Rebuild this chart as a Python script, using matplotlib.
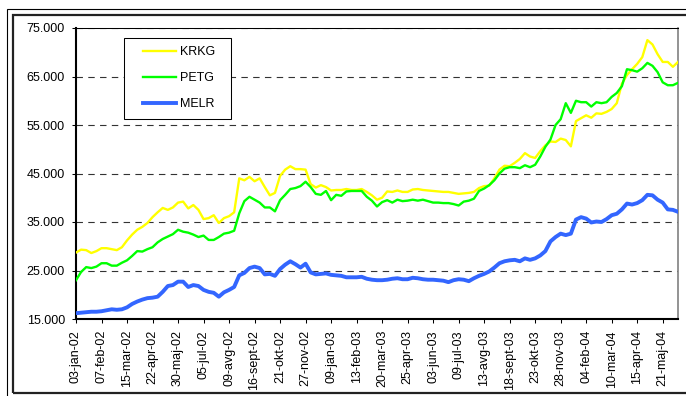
import matplotlib
matplotlib.use("Agg")
import matplotlib.pyplot as plt
from matplotlib.patches import Rectangle
from matplotlib.lines import Line2D
from matplotlib.ticker import FuncFormatter

plt.rcParams['font.family'] = ['Liberation Sans', 'DejaVu Sans']

# weekly closing prices (thousands), 03-jan-02 .. jun-04
krkg = [
    28.7, 29.3, 29.2, 28.6, 29.0, 29.6, 29.6, 29.4, 29.2, 29.8,
    31.2, 32.4, 33.4, 34.0, 34.8, 36.0, 37.0, 37.9, 37.5, 38.0,
    39.0, 39.2, 37.8, 38.5, 37.5, 35.6, 35.8, 36.4, 34.8, 35.8,
    36.2, 37.0, 44.0, 43.6, 44.3, 43.4, 44.0, 42.2, 40.5, 41.0,
    44.5, 45.8, 46.5, 45.9, 45.9, 45.8, 42.8, 42.1, 42.6, 42.2,
    41.5, 41.6, 41.6, 41.8, 41.6, 41.6, 41.8, 41.2, 40.5, 39.6,
    40.0, 41.3, 41.2, 41.5, 41.2, 41.2, 41.7, 41.8, 41.6, 41.5,
    41.4, 41.3, 41.2, 41.2, 41.0, 40.8, 40.9, 41.0, 41.2, 42.0,
    42.4, 42.5, 44.0, 45.8, 46.6, 46.5, 47.2, 48.0, 49.2, 48.5,
    48.2, 49.6, 50.8, 51.6, 51.5, 52.2, 51.9, 50.6, 55.8, 56.4,
    57.0, 56.5, 57.4, 57.3, 57.7, 58.3, 59.5, 63.5, 65.3, 66.5,
    67.6, 69.0, 72.5, 71.6, 69.6, 68.0, 68.0, 67.0, 68.0,
]
petg = [
    23.0, 24.7, 25.7, 25.5, 25.8, 26.5, 26.5, 26.0, 26.0, 26.6,
    27.1, 28.0, 29.0, 28.9, 29.4, 29.8, 30.8, 31.5, 32.0, 32.5,
    33.4, 33.0, 32.8, 32.4, 31.9, 32.2, 31.3, 31.3, 31.9, 32.6,
    32.8, 33.2, 36.8, 39.3, 40.2, 39.6, 39.0, 38.0, 38.0, 37.2,
    39.5, 40.6, 41.8, 42.0, 42.4, 43.3, 42.2, 40.8, 40.6, 41.4,
    39.5, 40.6, 40.4, 41.3, 41.4, 41.4, 41.4, 40.2, 39.4, 38.2,
    39.1, 39.5, 39.0, 39.6, 39.3, 39.4, 39.6, 39.4, 39.6, 39.3,
    39.0, 39.0, 38.9, 38.9, 38.7, 38.4, 39.2, 39.4, 39.8, 41.4,
    41.9, 42.6, 43.6, 45.0, 46.0, 46.3, 46.3, 46.1, 46.7, 46.3,
    46.8, 48.5, 50.5, 52.0, 55.0, 56.2, 59.5, 57.5, 60.0, 59.7,
    59.7, 58.8, 59.7, 59.5, 59.7, 60.8, 61.6, 63.0, 66.5, 66.3,
    66.0, 66.7, 67.8, 67.2, 65.9, 63.8, 63.2, 63.2, 63.7,
]
melr = [
    16.2, 16.3, 16.4, 16.5, 16.5, 16.6, 16.8, 17.0, 16.9, 17.0,
    17.4, 18.1, 18.6, 19.0, 19.3, 19.4, 19.6, 20.6, 21.8, 22.0,
    22.7, 22.7, 21.6, 22.0, 21.8, 21.0, 20.6, 20.4, 19.6, 20.5,
    21.0, 21.6, 24.0, 24.5, 25.5, 25.8, 25.5, 24.2, 24.3, 23.9,
    25.3, 26.2, 26.9, 26.3, 25.6, 26.4, 24.6, 24.2, 24.3, 24.4,
    24.1, 24.0, 23.9, 23.6, 23.6, 23.6, 23.7, 23.3, 23.1, 23.0,
    23.0, 23.1, 23.3, 23.4, 23.2, 23.2, 23.5, 23.4, 23.2, 23.1,
    23.1, 23.0, 22.9, 22.6, 23.0, 23.2, 23.1, 22.8, 23.4, 23.9,
    24.3, 24.8, 25.6, 26.5, 26.9, 27.1, 27.2, 26.9, 27.5, 27.2,
    27.5, 28.1, 29.0, 31.0, 31.9, 32.6, 32.3, 32.6, 35.5, 36.0,
    35.7, 34.9, 35.1, 35.0, 35.6, 36.4, 36.7, 37.6, 38.8, 38.6,
    38.9, 39.5, 40.6, 40.5, 39.6, 39.0, 37.6, 37.5, 37.1,
]
date_labels = [
    '03-jan-02', '07-feb-02', '15-mar-02', '22-apr-02', '30-maj-02',
    '05-jul-02', '09-avg-02', '16-sept-02', '21-okt-02', '27-nov-02',
    '09-jan-03', '13-feb-03', '20-mar-03', '25-apr-03', '03-jun-03',
    '09-jul-03', '13-avg-03', '18-sept-03', '23-okt-03', '28-nov-03',
    '04-feb-04', '10-mar-04', '15-apr-04', '21-maj-04',
]
label_step = 5

W, H = 686, 396
fig = plt.figure(figsize=(W / 100, H / 100), dpi=100)
ax = fig.add_axes([76 / W, 1 - 319 / H, 602 / W, 291 / H])

x = range(len(krkg))
ax.plot(x, krkg, color='#ffff00', lw=1.7, zorder=3)
ax.plot(x, petg, color='#00ff00', lw=1.7, zorder=3)
ax.plot(x, melr, color='#3366ff', lw=2.8, zorder=3)

ax.set_xlim(0, len(krkg) - 1)
ax.set_ylim(15, 75)
ax.set_yticks(range(15, 76, 10))
ax.yaxis.set_major_formatter(FuncFormatter(lambda v, p: f"{v * 1000:,.0f}".replace(",", ".")))
ax.set_xticks(range(0, len(krkg), label_step))
ax.set_xticklabels(date_labels, rotation=90)
ax.tick_params(direction='out', length=3, width=0.75, labelsize=9, pad=5, colors='black')

ax.grid(axis='y', color='#333333', lw=0.8, ls=(0, (5.8, 4.8)))
ax.set_axisbelow(True)

for side in ('left', 'bottom'):
    ax.spines[side].set_linewidth(1.5)
    ax.spines[side].set_color('black')
ax.spines['top'].set_linewidth(0.75)
ax.spines['right'].set_linewidth(1.2)
ax.spines['right'].set_color('#808080')

# legend box (white, drawn over the gridlines) and the entries on top
fig.add_artist(Rectangle((124 / W, 1 - 119 / H), 107 / W, 81 / H, transform=fig.transFigure,
                         facecolor='white', edgecolor='black', lw=0.75, zorder=1))
handles = [Line2D([], [], color='#ffff00', lw=1.7),
           Line2D([], [], color='#00ff00', lw=1.7),
           Line2D([], [], color='#3366ff', lw=2.8)]
fig.legend(handles, ['KRKG', 'PETG', 'MELR'], loc='upper left',
           bbox_to_anchor=(143 / W, 1 - 46 / H), bbox_transform=fig.transFigure,
           frameon=False, fontsize=9, borderpad=0, borderaxespad=0,
           handlelength=2.64, handletextpad=0.32, labelspacing=1.12)

# chart area frame
fig.add_artist(Rectangle((7 / W, -0.1), 1.2, 1 - 9 / H + 0.1, transform=fig.transFigure,
                         fill=False, edgecolor='black', lw=0.8, zorder=1))
fig.add_artist(Rectangle((13 / W, 1 - 393 / H), 1.2, (393 - 15) / H, transform=fig.transFigure,
                         fill=False, edgecolor='#222222', lw=1.6, zorder=1))

fig.savefig('out.png', dpi=100)
